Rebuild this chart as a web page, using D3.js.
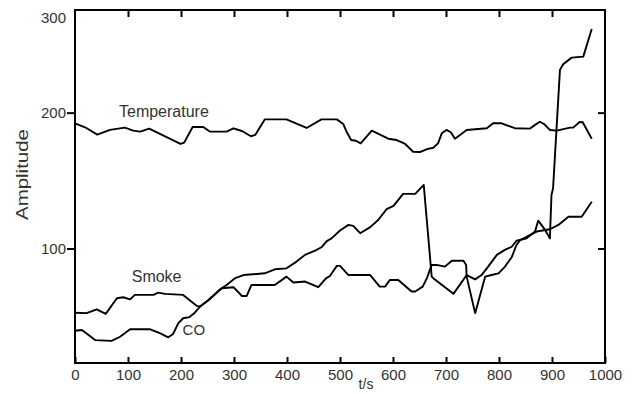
<!DOCTYPE html>
<html><head><meta charset="utf-8">
<script src="https://cdn.jsdelivr.net/npm/d3@7"></script>
<style>
body{margin:0;background:#fff}
svg{display:block}
text{font-family:"Liberation Sans",Arial,Helvetica,sans-serif}
</style>
</head><body>
<svg id="c" width="633" height="394"></svg>
<script>
// ---- data ----
const xTicks = [0,100,200,300,400,500,600,700,800,900,1000];
const yTicks = [100,200,300];
const frameTicksX = [100,200,300,400,500,600,700,800,900];
const frameTicksY = [100,200];

const tempT = [0,19,42,66,94,110,123,140,199,206,222,242,255,286,299,315,332,340,358,399,437,465,494,506,512,521,530,539,560,591,607,623,638,651,664,676,685,692,701,709,717,739,777,789,805,830,858,868,877,885,896,909,934,940,952,958,975];
const tempV = [190.4,186.9,180.6,184.6,186.6,184.0,183.1,185.7,172.7,173.8,187.2,187.2,183.1,183.1,186.0,183.7,179.2,180.3,193.9,193.9,186.3,193.9,193.9,189.8,183.5,176.0,175.4,173.2,184.0,177.1,176.0,172.7,166.3,166.1,168.5,169.6,173.2,181.7,184.6,182.6,177.1,184.6,186.1,190.4,190.4,186.1,185.7,189.0,191.8,189.8,184.6,184.0,186.6,186.6,191.6,191.3,177.1];

const smokeT = [0,22,41,58,79,91,104,113,148,157,170,204,230,236,252,274,286,302,318,358,377,399,418,434,453,465,475,484,500,516,525,538,557,572,588,601,619,642,658,673,676,714,739,755,767,777,796,811,824,833,852,868,874,887,896,899,902,915,921,937,959,975];
const smokeV = [67.7,67.5,69.2,67.2,74.2,74.7,73.7,75.8,75.8,76.9,76.3,75.8,70.7,70.4,73.4,78.5,80.6,84.0,85.6,86.5,88.6,89.1,92.7,96.4,98.8,100.7,104.3,105.9,110.6,114.1,113.5,109.0,112.7,117.2,124.2,126.4,134.6,134.6,141.0,84.8,84.0,76.3,85.6,83.4,85.6,89.1,96.4,99.2,101.0,104.5,105.9,110.0,116.8,111.0,105.9,133.9,138.6,241.8,247.8,254.8,255.9,287.0];

const coT = [0,13,38,69,85,104,142,160,176,185,195,204,216,226,236,252,277,299,315,324,333,377,399,412,434,459,474,481,494,500,516,557,575,585,594,610,635,642,656,664,673,682,698,711,733,738,739,755,767,774,786,799,811,824,833,840,871,896,912,931,956,975];
const coV = [60.1,60.4,56.4,56.1,57.7,60.7,60.7,59.1,57.5,58.8,63.2,65.3,65.8,67.7,70.4,73.4,79.0,79.5,75.3,75.3,80.6,80.6,84.8,81.8,82.3,79.5,84.0,85.1,90.4,90.4,85.6,85.6,79.8,79.8,83.1,83.1,77.4,77.4,79.8,84.0,90.9,90.9,90.0,93.2,93.2,90.9,84.8,67.5,78.2,84.8,85.6,86.5,89.9,95.1,102.0,104.9,110.0,111.4,114.1,119.3,119.3,129.2];

const labelNames = ["Temperature","Smoke","CO"];
const labelT = [83,107,203];
const labelV = [196.0,81.9,58.4];

// ---- chart ----
const W = 633, H = 394;
const svg = d3.select("#c");
const x = d3.scaleLinear().domain([0,1000]).range([75,605]);
const y = d3.scalePow().exponent(0.32).domain([48,309.8]).range([363,10]);
const font = '"Liberation Sans",Arial,Helvetica,sans-serif';

function styleAxis(g){
  g.select(".domain").remove();
  g.selectAll(".tick line").attr("stroke","#000").attr("stroke-width",2);
  g.selectAll("text").attr("fill","#333").attr("font-size",15).attr("font-family",font);
}

// bottom axis
svg.append("g").attr("transform","translate(0,363)")
  .call(d3.axisBottom(x).tickValues(xTicks).tickSize(-6).tickPadding(6).tickFormat(d3.format("d")))
  .call(styleAxis);
// top axis (ticks only)
svg.append("g").attr("transform","translate(0,10)")
  .call(d3.axisTop(x).tickValues(frameTicksX).tickSize(-7).tickFormat(""))
  .call(styleAxis);
// left axis
const gL = svg.append("g").attr("transform","translate(75,0)")
  .call(d3.axisLeft(y).tickValues(yTicks).tickSize(8).tickPadding(1).tickFormat(d3.format("d")))
  .call(styleAxis);
gL.selectAll(".tick").filter(d => d === 300).select("line").remove();
// right axis (ticks only)
svg.append("g").attr("transform","translate(605,0)")
  .call(d3.axisRight(y).tickValues(frameTicksY).tickSize(-7).tickFormat(""))
  .call(styleAxis);

// frame
svg.append("rect").attr("x",x(0)).attr("y",y.range()[1])
  .attr("width",x(1000)-x(0)).attr("height",y.range()[0]-y.range()[1])
  .attr("fill","none").attr("stroke","#000").attr("stroke-width",2);

// lines
const line = d3.line().x(d => x(d[0])).y(d => y(d[1]));
[[tempT,tempV],[smokeT,smokeV],[coT,coV]].forEach(([T,V]) => {
  svg.append("path").datum(d3.zip(T,V))
    .attr("d",line).attr("fill","none").attr("stroke","#000")
    .attr("stroke-width",1.9).attr("stroke-linejoin","round");
});

// series labels
labelNames.forEach((n,i) => {
  svg.append("text").attr("x",x(labelT[i])).attr("y",y(labelV[i]))
    .attr("font-size", n === "CO" ? 15 : 16).attr("fill","#333").text(n);
});

// axis titles
svg.append("text").attr("transform","translate(28,174.5) rotate(-90)")
  .attr("text-anchor","middle").attr("font-size",17).attr("fill","#333")
  .attr("textLength",91).attr("lengthAdjust","spacingAndGlyphs").text("Amplitude");
svg.append("text").attr("x",366).attr("y",389).attr("text-anchor","middle")
  .attr("font-size",14).attr("fill","#333").text("t/s");
</script>
</body></html>
